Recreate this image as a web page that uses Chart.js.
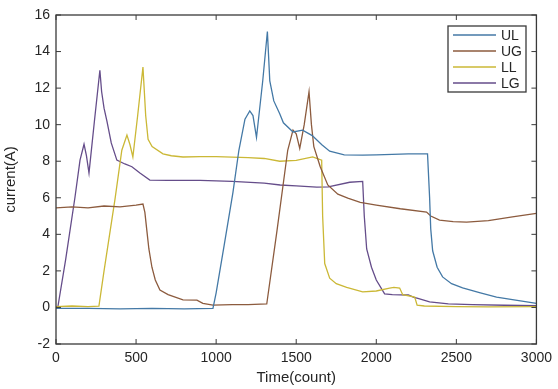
<!DOCTYPE html>
<html>
<head>
<meta charset="utf-8">
<script src="https://cdn.jsdelivr.net/npm/chart.js@4.4.1/dist/chart.umd.min.js"></script>
<style>
  html, body { margin: 0; padding: 0; background: #fff; }
</style>
</head>
<body>
<canvas id="currentChart" width="558" height="389"></canvas>
<script>
// values
const seriesNames = ['UL', 'UG', 'LL', 'LG'];
const xTicks = [0, 500, 1000, 1500, 2000, 2500, 3000];
const yTicks = [-2, 0, 2, 4, 6, 8, 10, 12, 14, 16];

const ulTime = [0, 200, 400, 600, 800, 980, 1000, 1050, 1105, 1142, 1180, 1210, 1230, 1252, 1291, 1320, 1335, 1360, 1397, 1420, 1480, 1540, 1600, 1660, 1709, 1800, 1915, 2000, 2100, 2200, 2320, 2333, 2340, 2352, 2380, 2414, 2470, 2539, 2650, 2751, 2870, 3000];
const ulCurrent = [-0.05, -0.05, -0.08, -0.05, -0.08, -0.05, 0.8, 3.4, 6.3, 8.6, 10.3, 10.75, 10.5, 9.3, 12.4, 15.1, 12.4, 11.3, 10.6, 10.1, 9.6, 9.7, 9.4, 8.9, 8.55, 8.35, 8.33, 8.35, 8.38, 8.4, 8.4, 6.0, 4.3, 3.1, 2.2, 1.67, 1.3, 1.07, 0.8, 0.57, 0.4, 0.22];

const ugTime = [0, 100, 200, 300, 400, 500, 543, 555, 567, 580, 599, 620, 649, 700, 793, 880, 917, 980, 1100, 1200, 1316, 1380, 1447, 1480, 1500, 1522, 1550, 1580, 1595, 1610, 1650, 1697, 1760, 1822, 1900, 2000, 2150, 2314, 2340, 2395, 2480, 2564, 2700, 2850, 3000];
const ugCurrent = [5.45, 5.5, 5.45, 5.55, 5.5, 5.6, 5.66, 5.2, 4.23, 3.2, 2.2, 1.5, 0.95, 0.7, 0.41, 0.4, 0.22, 0.13, 0.15, 0.15, 0.19, 4.2, 8.6, 9.7, 9.5, 8.7, 10.0, 11.8, 10.0, 8.8, 7.7, 6.7, 6.2, 5.98, 5.75, 5.6, 5.4, 5.22, 5.0, 4.78, 4.7, 4.67, 4.75, 4.95, 5.15];

const llTime = [0, 100, 200, 268, 300, 368, 411, 443, 462, 480, 510, 543, 560, 575, 600, 668, 720, 793, 900, 1000, 1100, 1200, 1300, 1397, 1500, 1603, 1659, 1665, 1678, 1709, 1750, 1815, 1915, 2000, 2083, 2110, 2146, 2165, 2240, 2255, 2300, 2500, 2700, 3000];
const llCurrent = [0.05, 0.08, 0.05, 0.07, 2.0, 5.9, 8.6, 9.43, 8.9, 8.23, 10.5, 13.15, 10.5, 9.2, 8.8, 8.4, 8.3, 8.23, 8.25, 8.25, 8.22, 8.2, 8.15, 8.0, 8.05, 8.24, 8.06, 5.0, 2.4, 1.6, 1.3, 1.1, 0.85, 0.9, 1.06, 1.1, 1.06, 0.7, 0.57, 0.13, 0.08, 0.05, 0.03, 0.05];

const lgTime = [0, 12, 60, 118, 150, 175, 190, 206, 240, 274, 285, 300, 318, 345, 380, 430, 474, 524, 586, 700, 900, 1100, 1300, 1400, 1500, 1628, 1700, 1834, 1915, 1925, 1940, 1970, 2000, 2052, 2100, 2200, 2235, 2260, 2333, 2450, 2600, 2800, 3000];
const lgCurrent = [0.02, 0.05, 2.6, 6.0, 8.06, 8.93, 8.3, 7.35, 10.2, 12.98, 11.8, 10.9, 10.2, 9.0, 8.06, 7.85, 7.7, 7.35, 6.97, 6.95, 6.95, 6.9, 6.8, 6.7, 6.65, 6.58, 6.6, 6.85, 6.9, 5.0, 3.2, 2.2, 1.5, 0.74, 0.7, 0.68, 0.55, 0.5, 0.3, 0.2, 0.15, 0.12, 0.1];

const colors = {
    UL: '#4479a6',   // blue
    UG: '#8c5b3e',   // brown
    LL: '#cbb836',   // yellow
    LG: '#654d8a',   // purple
    axis: '#3a3a3a',
    text: '#262626'
};

const toPoints = (xs, ys) => xs.map((x, i) => ({ x: x, y: ys[i] }));

const seriesData = [
    toPoints(ulTime, ulCurrent),
    toPoints(ugTime, ugCurrent),
    toPoints(llTime, llCurrent),
    toPoints(lgTime, lgCurrent)
];

const fontFamily = '"Liberation Sans", Arial, sans-serif';

// box round the plot with inward tick marks, matlab style
const boxPlugin = {
    id: 'box',
    afterDatasetsDraw(chart) {
        const { ctx, chartArea: a, scales } = chart;
        const len = 5;
        ctx.save();
        ctx.strokeStyle = colors.axis;
        ctx.lineWidth = 1.3;
        ctx.strokeRect(a.left, a.top, a.right - a.left, a.bottom - a.top);
        ctx.lineWidth = 1;
        ctx.beginPath();
        xTicks.forEach(v => {
            const px = scales.x.getPixelForValue(v);
            ctx.moveTo(px, a.bottom); ctx.lineTo(px, a.bottom - len);
            ctx.moveTo(px, a.top); ctx.lineTo(px, a.top + len);
        });
        yTicks.forEach(v => {
            const py = scales.y.getPixelForValue(v);
            ctx.moveTo(a.left, py); ctx.lineTo(a.left + len, py);
            ctx.moveTo(a.right, py); ctx.lineTo(a.right - len, py);
        });
        ctx.stroke();
        ctx.restore();
    }
};

// legend box at top right inside the plot
const legendPlugin = {
    id: 'boxLegend',
    afterDraw(chart) {
        const ctx = chart.ctx;
        const left = 448, top = 26, w = 78, h = 66;
        ctx.save();
        ctx.fillStyle = '#fff';
        ctx.fillRect(left, top, w, h);
        ctx.strokeStyle = colors.axis;
        ctx.lineWidth = 1.3;
        ctx.strokeRect(left, top, w, h);
        ctx.font = '14px ' + fontFamily;
        ctx.textBaseline = 'middle';
        chart.data.datasets.forEach((ds, i) => {
            const y = top + 9 + i * 16;
            ctx.strokeStyle = ds.borderColor;
            ctx.lineWidth = 1.5;
            ctx.beginPath();
            ctx.moveTo(left + 5, y);
            ctx.lineTo(left + 48, y);
            ctx.stroke();
            ctx.fillStyle = colors.text;
            ctx.fillText(ds.label, left + 53, y + 1);
        });
        ctx.restore();
    }
};

new Chart(document.getElementById('currentChart'), {
    type: 'line',
    data: {
        datasets: seriesNames.map((name, i) => ({
            label: name,
            data: seriesData[i],
            borderColor: colors[name],
            borderWidth: 1.3,
            pointRadius: 0,
            tension: 0,
            fill: false
        }))
    },
    options: {
        responsive: false,
        animation: false,
        layout: { padding: { top: 15, right: 21, left: 0, bottom: 0 } },
        plugins: {
            legend: { display: false },
            tooltip: { enabled: false }
        },
        scales: {
            x: {
                type: 'linear',
                min: 0,
                max: 3000,
                afterFit: s => { s.height = 45; },
                afterBuildTicks: s => { s.ticks = xTicks.map(v => ({ value: v })); },
                grid: { display: false, drawTicks: false },
                border: { display: false },
                ticks: {
                    color: colors.text, padding: 6, maxRotation: 0,
                    font: { family: fontFamily, size: 14 },
                    callback: v => String(v)
                },
                title: {
                    display: true,
                    text: 'Time(count)',
                    color: colors.text,
                    padding: { top: 0, bottom: 2 },
                    font: { family: fontFamily, size: 15 }
                }
            },
            y: {
                min: -2,
                max: 16,
                afterFit: s => { s.width = 56; },
                afterBuildTicks: s => { s.ticks = yTicks.map(v => ({ value: v })); },
                grid: { display: false, drawTicks: false },
                border: { display: false },
                ticks: {
                    color: colors.text, padding: 6,
                    font: { family: fontFamily, size: 14 },
                    callback: v => String(v)
                },
                title: {
                    display: true,
                    text: 'current(A)',
                    color: colors.text,
                    padding: { top: 2, bottom: 0 },
                    font: { family: fontFamily, size: 15 }
                }
            }
        }
    },
    plugins: [boxPlugin, legendPlugin]
});
</script>
</body>
</html>
